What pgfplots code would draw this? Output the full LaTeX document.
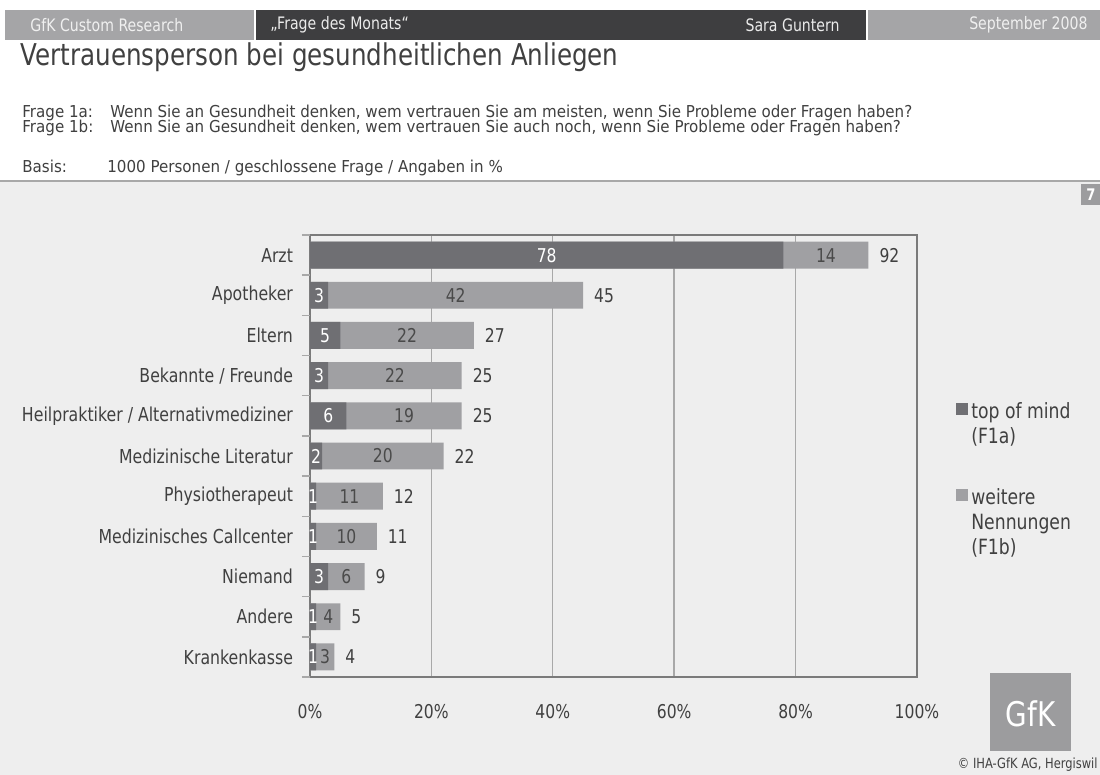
\documentclass[border=0pt]{standalone}
\usepackage{fontspec}
\setmainfont{DejaVu Sans}[FakeStretch=0.82]
\newfontfamily\fragefont{DejaVu Sans}[FakeStretch=0.92]
\usepackage{pgfplots}
\usepackage{pgfplotstable}
\pgfplotsset{compat=1.18}
\definecolor{darkbar}{HTML}{6F6F73}
\definecolor{lightbar}{HTML}{A0A0A3}
\definecolor{bgc}{HTML}{EEEEEE}
\definecolor{txt}{HTML}{404040}
\definecolor{lbltxt}{HTML}{4A4A4A}
\definecolor{hdrdark}{HTML}{3E3E40}
\definecolor{hdrlight}{HTML}{A5A5A7}
\definecolor{axisc}{HTML}{7A7A7A}
\definecolor{gridc}{HTML}{A8A8A8}
\definecolor{logoc}{HTML}{9C9C9E}

\pgfplotstableread{
idx top wei tot cd cl
0 78 14 92 39 85
1 3 42 45 1.5 24
2 5 22 27 2.5 16
3 3 22 25 1.5 14
4 6 19 25 3 15.5
5 2 20 22 1 12
6 1 11 12 0.5 6.5
7 1 10 11 0.5 6
8 3 6 9 1.5 6
9 1 4 5 0.5 3
10 1 3 4 0.5 2.5
}\datatab

\begin{document}
\begin{tikzpicture}
\begin{scope}[x=0.5pt,y=-0.5pt]
\useasboundingbox (0,0) rectangle (1100,775);
\fill[white] (0,0) rectangle (1100,181);
\fill[bgc] (0,181) rectangle (1100,775);
\draw[gridc, line width=0.8pt] (0,181) -- (1100,181);
% header band
\fill[hdrlight] (5,10) rectangle (255,40);
\fill[hdrdark] (255,10) rectangle (867,40);
\fill[hdrlight] (867,10) rectangle (1100,40);
\draw[white, line width=0.8pt] (255,10) -- (255,40) (867,10) -- (867,40);
\node[anchor=west, text=white!94!black, font=\fontsize{8.6}{10}\selectfont, inner sep=0pt] at (30,25) {GfK Custom Research};
\node[anchor=west, text=white!92!black, font=\fontsize{8.6}{10}\selectfont, inner sep=0pt] at (270,25) {„Frage des Monats“};
\node[anchor=east, text=white!92!black, font=\fontsize{8.6}{10}\selectfont, inner sep=0pt] at (840,25) {Sara Guntern};
\node[anchor=east, text=white!94!black, font=\fontsize{8.6}{10}\selectfont, inner sep=0pt] at (1088,25) {September 2008};
% title
\node[anchor=west, text=txt, font=\fontsize{15}{17}\selectfont, inner sep=0pt] at (20,57) {Vertrauensperson bei gesundheitlichen Anliegen};
\node[anchor=west, text=txt, font=\fragefont\fontsize{8.2}{9}\selectfont, inner sep=0pt] at (22,113) {Frage 1a:};
\node[anchor=west, text=txt, font=\fragefont\fontsize{8.2}{9}\selectfont, inner sep=0pt] at (110,113) {Wenn Sie an Gesundheit denken, wem vertrauen Sie am meisten, wenn Sie Probleme oder Fragen haben?};
\node[anchor=west, text=txt, font=\fragefont\fontsize{8.2}{9}\selectfont, inner sep=0pt] at (22,128) {Frage 1b:};
\node[anchor=west, text=txt, font=\fragefont\fontsize{8.2}{9}\selectfont, inner sep=0pt] at (110,128) {Wenn Sie an Gesundheit denken, wem vertrauen Sie auch noch, wenn Sie Probleme oder Fragen haben?};
\node[anchor=base west, text=txt, font=\fragefont\fontsize{8.2}{9}\selectfont, inner sep=0pt] at (22,173) {Basis:};
\node[anchor=base west, text=txt, font=\fragefont\fontsize{8.2}{9}\selectfont, inner sep=0pt] at (107,173) {1000 Personen / geschlossene Frage / Angaben in \%};
% page number
\fill[logoc] (1081,184) rectangle (1100,205);
\node[text=white, font=\bfseries\fontsize{8}{9}\selectfont, inner sep=0pt] at (1091,194.5) {7};
% logo
\fill[logoc] (990,673) rectangle (1071,751);
\node[text=white, font=\fontsize{17}{19}\selectfont, inner sep=0pt] at (1030.5,714) {GfK};
\node[anchor=east, text=txt, font=\fontsize{7}{8}\selectfont, inner sep=0pt] at (1098,765) {© IHA-GfK AG, Hergiswil};
\end{scope}

\begin{axis}[
  at={(155pt,-338.5pt)}, anchor=south west,
  scale only axis, width=303.5pt, height=221pt,
  xmin=0, xmax=100, ymin=-0.5, ymax=10.5, y dir=reverse,
  xtick={0,20,...,100},
  xticklabel={\pgfmathprintnumber{\tick}\%},
  /pgf/number format/assume math mode=true,
  ytick={0,...,10},
  yticklabels={Arzt,Apotheker,Eltern,Bekannte / Freunde,Heilpraktiker / Alternativmediziner,Medizinische Literatur,Physiotherapeut,Medizinisches Callcenter,Niemand,Andere,Krankenkasse},
  xmajorgrids, grid style={draw=gridc, line width=0.7pt},
  axis line style={draw=axisc, line width=0.8pt},
  major tick length=0pt,
  extra y ticks={-0.5,0.5,...,10.5}, extra y tick labels={},
  extra y tick style={major tick length=4pt, tick align=outside, tick pos=left, major tick style={draw=gridc, line width=0.7pt}},
  yticklabel style={font=\fontsize{9.6}{11}\selectfont, text=txt, xshift=-5pt},
  xticklabel style={font=\fontsize{9.5}{11}\selectfont, text=txt, yshift=-10pt},
  bar width=0.67,
  legend style={at={(rel axis cs:1.053,0.639)}, anchor=north west, draw=none, fill=none,
     font=\fontsize{10.5}{12.5}\selectfont, text=txt, cells={align=left}, row sep=17pt},
  legend cell align=left,
  nodes near coords style={font=\fontsize{9.5}{11}\selectfont},
]
\addlegendimage{legend image code/.code={\fill[darkbar] (0pt,5.3pt) rectangle (5.5pt,10.8pt);}}
\addlegendentry{top of mind\\(F1a)}
\addlegendimage{legend image code/.code={\fill[lightbar] (0pt,11.5pt) rectangle (5.5pt,17pt);}}
\addlegendentry{weitere\\Nennungen\\(F1b)}
\addplot[xbar, bar shift=0pt, fill=lightbar, draw=none, forget plot,
  nodes near coords, point meta=explicit symbolic,
  every node near coord/.append style={anchor=west, xshift=2pt, text=txt}]
  table[x=tot, y=idx, meta=tot]{\datatab};
\addplot[xbar, bar shift=0pt, fill=darkbar, draw=none, forget plot]
  table[x=top, y=idx]{\datatab};
\addplot[only marks, mark=*, mark size=0pt, mark options={draw=none, fill=none}, forget plot,
  nodes near coords, point meta=explicit symbolic,
  every node near coord/.append style={anchor=center, text=white, inner sep=0pt}]
  table[x=cd, y=idx, meta=top]{\datatab};
\addplot[only marks, mark=*, mark size=0pt, mark options={draw=none, fill=none}, forget plot,
  nodes near coords, point meta=explicit symbolic,
  every node near coord/.append style={anchor=center, text=lbltxt, inner sep=0pt}]
  table[x=cl, y=idx, meta=wei]{\datatab};
\end{axis}
\end{tikzpicture}
\end{document}
